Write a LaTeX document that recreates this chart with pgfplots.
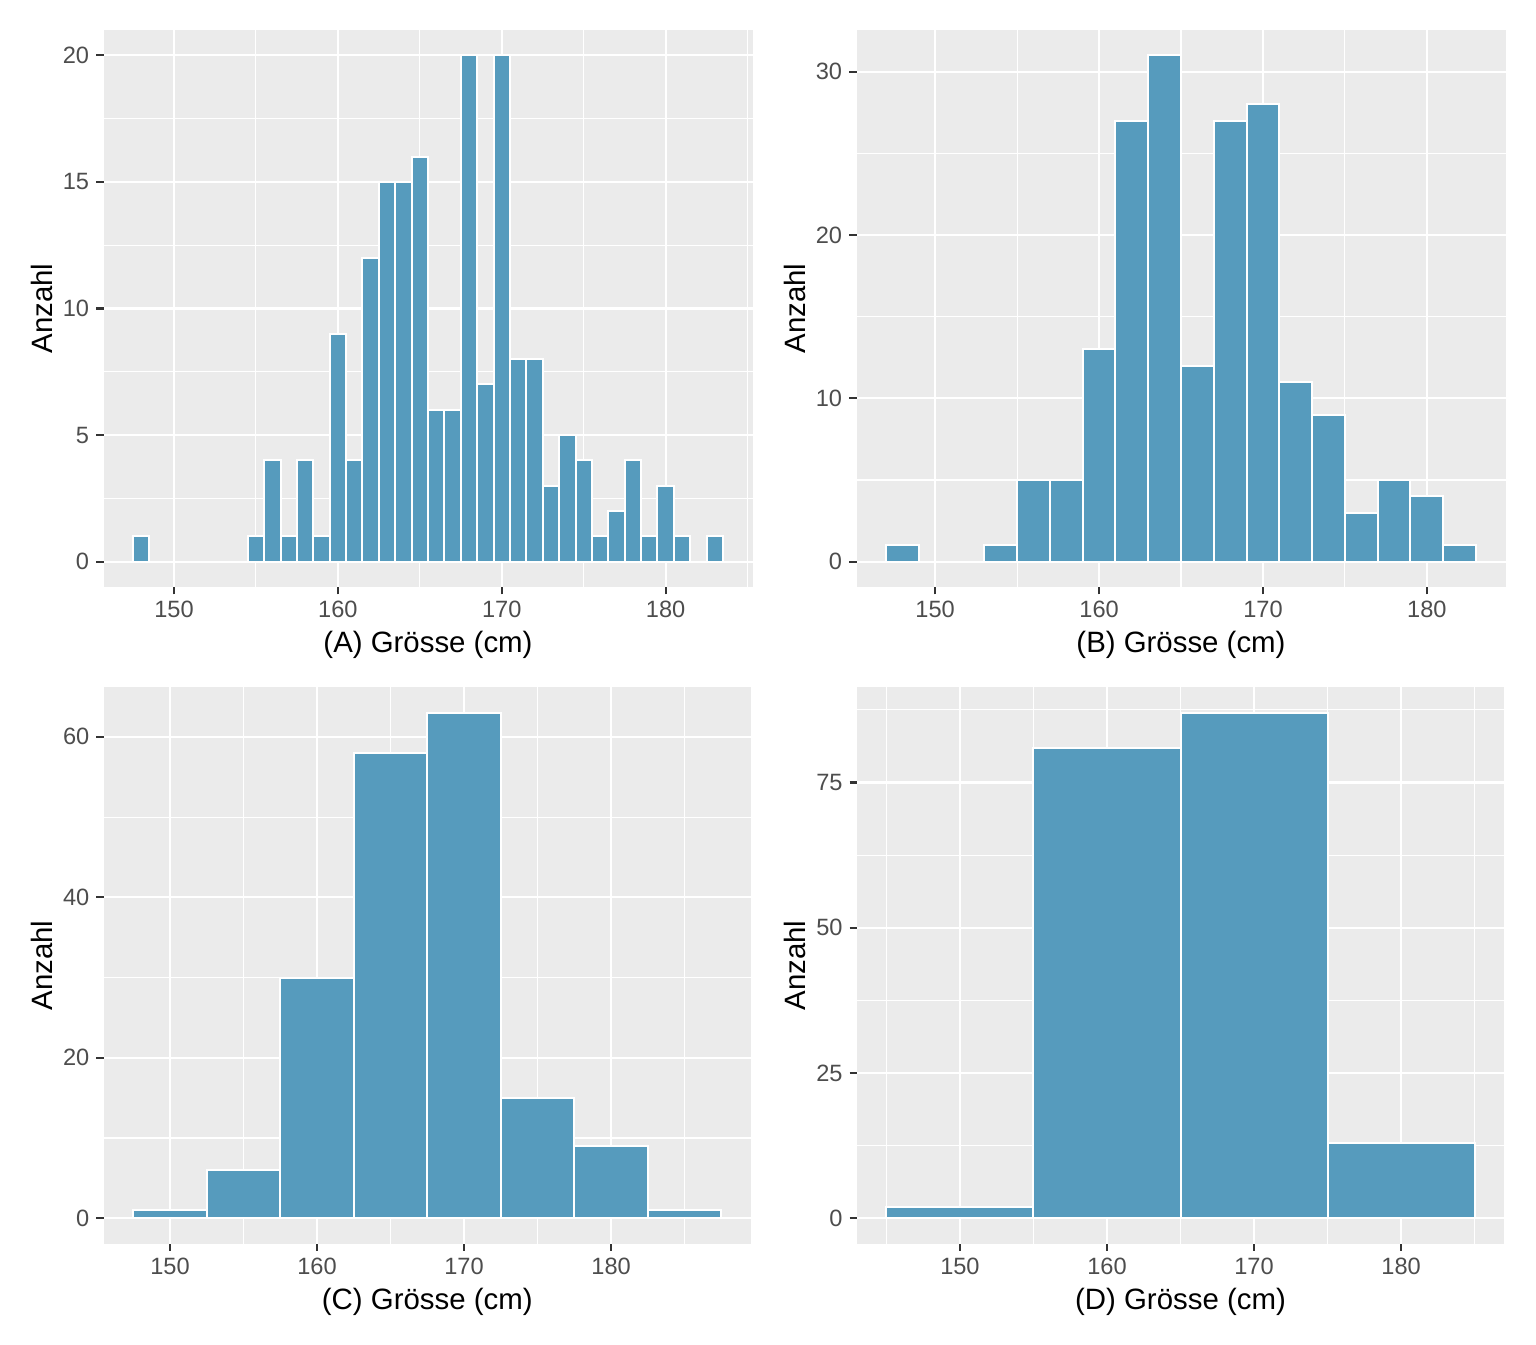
\documentclass[border=0pt]{standalone}
\usepackage{fontspec}
\setmainfont{Liberation Sans}
\usepackage{pgfplots}
\pgfplotsset{compat=1.18}
\definecolor{ggbg}{HTML}{EBEBEB}
\definecolor{barcol}{HTML}{569BBD}
\definecolor{tickcol}{HTML}{333333}
\definecolor{labcol}{HTML}{4D4D4D}
\pgfplotsset{
  gg/.style={
    scale only axis,
    axis background/.style={fill=ggbg},
    axis lines*=left,
    axis line style={draw=none},
    grid=both,
    major grid style={white, line width=1.1pt},
    minor grid style={white, line width=0.55pt},
    tick align=outside,
    major tick length=3.7pt,
    minor tick length=0pt,
    every tick/.style={draw=tickcol, line width=1.1pt},
    ticklabel style={font=\fontsize{11.8}{12}\selectfont, text=labcol},
    /pgf/number format/assume math mode=true,
    /pgf/number format/1000 sep={},
    label style={font=\fontsize{14.7}{15}\selectfont},
    xlabel style={at={(axis description cs:0.5,-0.118)}, anchor=base},
    ylabel style={at={(axis description cs:-0.0789,0.5)}, anchor=base},
    ylabel={Anzahl},
    xtick={150,160,170,180},
  },
  bars/.style={ybar interval, fill=barcol, draw=white, line width=1pt},
}
\begin{document}
\begin{tikzpicture}
\path[use as bounding box] (0,0) rectangle (768pt,672pt);
% (A)
\begin{axis}[gg, at={(51.75pt,378.5pt)}, anchor=south west,
  width=324.5pt, height=278.5pt,
  xmin=145.7, xmax=185.3, ymin=-1, ymax=21,
  ytick={0,5,10,15,20}, minor ytick={2.5,7.5,12.5,17.5},
  minor xtick={155,165,175,185},
  xlabel={(A) Grösse (cm)}]
\addplot[bars] coordinates {
(147.5,1) (148.5,0) (149.5,0) (150.5,0) (151.5,0) (152.5,0) (153.5,0)
(154.5,1) (155.5,4) (156.5,1) (157.5,4) (158.5,1) (159.5,9) (160.5,4)
(161.5,12) (162.5,15) (163.5,15) (164.5,16) (165.5,6) (166.5,6)
(167.5,20) (168.5,7) (169.5,20) (170.5,8) (171.5,8) (172.5,3) (173.5,5)
(174.5,4) (175.5,1) (176.5,2) (177.5,4) (178.5,1) (179.5,3) (180.5,1)
(181.5,0) (182.5,1) (183.5,0)};
\end{axis}
% (B)
\begin{axis}[gg, at={(428.25pt,378.5pt)}, anchor=south west,
  width=324.5pt, height=278.5pt,
  xmin=145.2, xmax=184.8, ymin=-1.55, ymax=32.55,
  ytick={0,10,20,30}, minor ytick={5,15,25},
  minor xtick={155,165,175},
  xlabel={(B) Grösse (cm)}]
\addplot[bars] coordinates {
(147,1) (149,0) (151,0) (153,1) (155,5) (157,5) (159,13) (161,27)
(163,31) (165,12) (167,27) (169,28) (171,11) (173,9) (175,3) (177,5)
(179,4) (181,1) (183,0)};
\end{axis}
% (C)
\begin{axis}[gg, at={(51.9pt,50.25pt)}, anchor=south west,
  width=323.5pt, height=278pt,
  xmin=145.5, xmax=189.5, ymin=-3.15, ymax=66.15,
  ytick={0,20,40,60}, minor ytick={10,30,50},
  minor xtick={155,165,175,185},
  xlabel={(C) Grösse (cm)}]
\addplot[bars] coordinates {
(147.5,1) (152.5,6) (157.5,30) (162.5,58) (167.5,63) (172.5,15)
(177.5,9) (182.5,1) (187.5,0)};
\end{axis}
% (D)
\begin{axis}[gg, at={(428.5pt,50.25pt)}, anchor=south west,
  width=323.5pt, height=278pt,
  xmin=143, xmax=187, ymin=-4.35, ymax=91.35,
  ytick={0,25,50,75}, minor ytick={12.5,37.5,62.5,87.5},
  minor xtick={145,155,165,175,185},
  xlabel={(D) Grösse (cm)}]
\addplot[bars] coordinates {
(145,2) (155,81) (165,87) (175,13) (185,0)};
\end{axis}
\end{tikzpicture}
\end{document}
